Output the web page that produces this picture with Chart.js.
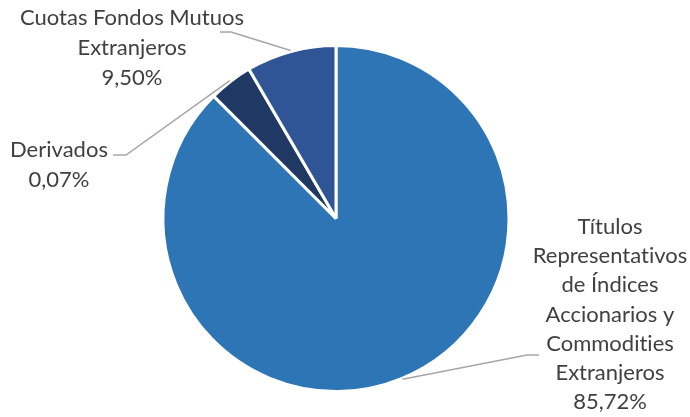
<!DOCTYPE html>
<html>
<head>
<meta charset="utf-8">
<script src="https://cdn.jsdelivr.net/npm/chart.js@4.4.0/dist/chart.umd.min.js"></script>
<style>
    html, body { margin: 0; padding: 0; background: #fff; }
</style>
</head>
<body>
<canvas id="pieChart" width="690" height="417"></canvas>
<script>
// Data
const categories = [
    'Títulos Representativos de Índices Accionarios y Commodities Extranjeros',
    'Derivados',
    'Cuotas Fondos Mutuos Extranjeros'
];
const sliceValues = [87.5, 4.1, 8.4];          // slice sizes as drawn
const percentLabels = ['85,72%', '0,07%', '9,50%'];
const labelLines = [
    ['Títulos', 'Representativos', 'de Índices', 'Accionarios y', 'Commodities', 'Extranjeros'],
    ['Derivados'],
    ['Cuotas Fondos Mutuos', 'Extranjeros']
];
const sliceColors = ['#2E75B6', '#203864', '#2F5597'];

// Where each label block sits and how its leader line bends
const labelLayout = [
    { cx: 610, y0: 227, lh: 29.2, start: [539, 355], knee: [527, 355] },
    { cx: 59,  y0: 150, lh: 30,   start: [113, 155], knee: [126, 155] },
    { cx: 132, y0: 18,  lh: 30,   start: [220, 32],  knee: [231, 32] }
];

// Draw labels and leader lines
const outsideLabels = {
    id: 'outsideLabels',
    afterDatasetsDraw(chart) {
        const ctx = chart.ctx;
        const arcs = chart.getDatasetMeta(0).data;
        ctx.save();
        arcs.forEach((arc, i) => {
            const lay = labelLayout[i];
            const mid = (arc.startAngle + arc.endAngle) / 2;
            const r = arc.outerRadius + 1;
            const px = arc.x + Math.cos(mid) * r;
            const py = arc.y + Math.sin(mid) * r;

            ctx.strokeStyle = '#A6A6A6';
            ctx.lineWidth = 1.5;
            ctx.beginPath();
            ctx.moveTo(lay.start[0], lay.start[1]);
            ctx.lineTo(lay.knee[0], lay.knee[1]);
            ctx.lineTo(px, py);
            ctx.stroke();

            const lines = labelLines[i].concat([percentLabels[i]]);
            ctx.fillStyle = '#404040';
            ctx.font = '22px Lato';
            ctx.letterSpacing = '0.01px'; // keeps "ti" from turning into a ligature
            ctx.textAlign = 'center';
            ctx.textBaseline = 'middle';
            lines.forEach((t, j) => {
                ctx.fillText(t, lay.cx, lay.y0 + j * lay.lh);
            });
        });
        ctx.restore();
    }
};

new Chart(document.getElementById('pieChart').getContext('2d'), {
    type: 'pie',
    data: {
        labels: categories,
        datasets: [{
            data: sliceValues,
            backgroundColor: sliceColors,
            borderColor: '#ffffff',
            borderWidth: 3
        }]
    },
    options: {
        responsive: false,
        animation: false,
        layout: {
            padding: { left: 161.5, right: 179.5, top: 44, bottom: 24 }
        },
        plugins: {
            legend: { display: false },
            tooltip: { enabled: false }
        }
    },
    plugins: [outsideLabels]
});
</script>
</body>
</html>
